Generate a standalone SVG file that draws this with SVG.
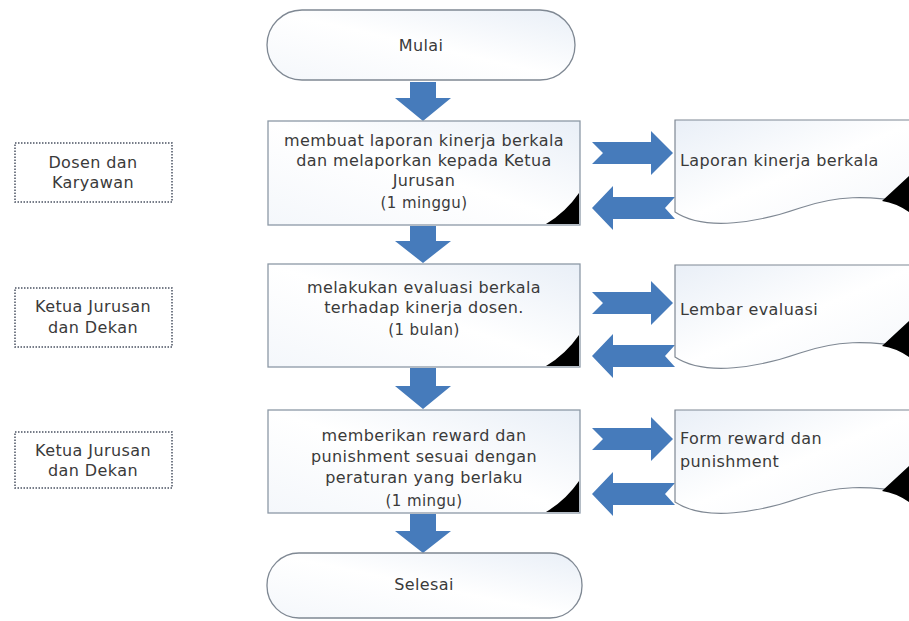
<svg xmlns="http://www.w3.org/2000/svg" width="909" height="621" viewBox="0 0 909 621">
<style>
.t{font-family:"DejaVu Sans","Liberation Sans",sans-serif;font-size:16px;fill:#3a3a3a;letter-spacing:0.4px}
.c{text-anchor:middle}
.d{font-size:15px}
.box{fill:url(#g);stroke:#8d99a6;stroke-width:1.3}
.term{fill:url(#g);stroke:#7f8893;stroke-width:1.3}
.lab{fill:#ffffff;stroke:#4a5262;stroke-width:1.5;stroke-dasharray:1.5 1.5}
.doc{fill:url(#g2);stroke:#7f8893;stroke-width:1.2}
.corner{fill:#000}
.arr{fill:#467bbb}
</style>
<defs>
<linearGradient id="g" x1="0" y1="1" x2="1" y2="0">
<stop offset="0" stop-color="#f4f7fb"/>
<stop offset="0.5" stop-color="#ffffff"/>
<stop offset="1" stop-color="#e9eff7"/>
</linearGradient>
<linearGradient id="g2" x1="0" y1="0" x2="1" y2="1">
<stop offset="0" stop-color="#e9eff7"/>
<stop offset="0.5" stop-color="#ffffff"/>
<stop offset="1" stop-color="#f3f6fa"/>
</linearGradient>
</defs>
<rect width="909" height="621" fill="#ffffff"/>

<g id="connectors">
<path class="arr" d="M410,82 H436 V98 H451 L423,121 L395,98 H410 Z"/>
<path class="arr" d="M410,226 H436 V241 H451 L423,263 L395,241 H410 Z"/>
<path class="arr" d="M410,368 H436 V386 H451 L423,409 L395,386 H410 Z"/>
<path class="arr" d="M410,514 H436 V531 H451 L423,553 L395,531 H410 Z"/>
<path class="arr" d="M592,142 H651 V131 L673,153 L651,175 V164 H592 L603,153 Z"/>
<path class="arr" d="M675,197 H613 V186 L592,208 L613,230 V219 H675 L665,208 Z"/>
<path class="arr" d="M592,292 H651 V281 L673,303 L651,325 V314 H592 L603,303 Z"/>
<path class="arr" d="M675,345 H613 V334 L592,356 L613,378 V367 H675 L665,356 Z"/>
<path class="arr" d="M592,428 H651 V417 L673,439 L651,461 V450 H592 L603,439 Z"/>
<path class="arr" d="M675,483 H613 V472 L592,494 L613,516 V505 H675 L665,494 Z"/>
</g>

<g id="mulai">
<rect class="term" x="267" y="10" width="308" height="70" rx="35"/>
<text class="t c" x="421" y="51">Mulai</text>
</g>

<g id="proses1">
<rect class="box" x="268" y="121" width="312" height="104"/>
<path class="corner" d="M546,224 Q566,212 579,193 V224 Z"/>
<text class="t c" x="424" y="146">membuat laporan kinerja berkala</text>
<text class="t c" x="424" y="166">dan melaporkan kepada Ketua</text>
<text class="t c" x="424" y="186">Jurusan</text>
<text class="t c d" x="424" y="208">(1 minggu)</text>
</g>

<g id="proses2">
<rect class="box" x="268" y="264" width="312" height="103"/>
<path class="corner" d="M546,366 Q566,354 579,335 V366 Z"/>
<text class="t c" x="424" y="293">melakukan evaluasi berkala</text>
<text class="t c" x="424" y="313">terhadap kinerja dosen.</text>
<text class="t c d" x="424" y="335">(1 bulan)</text>
</g>

<g id="proses3">
<rect class="box" x="268" y="410" width="312" height="103"/>
<path class="corner" d="M546,512 Q566,500 579,481 V512 Z"/>
<text class="t c" x="424" y="441">memberikan reward dan</text>
<text class="t c" x="424" y="462">punishment sesuai dengan</text>
<text class="t c" x="424" y="483">peraturan yang berlaku</text>
<text class="t c d" x="424" y="506">(1 mingu)</text>
</g>

<g id="selesai">
<rect class="term" x="267" y="553" width="315" height="65" rx="32"/>
<text class="t c" x="424" y="590">Selesai</text>
</g>

<g id="label1">
<rect class="lab" x="15" y="143" width="157" height="59"/>
<text class="t c" x="93" y="168">Dosen dan</text>
<text class="t c" x="93" y="188">Karyawan</text>
</g>
<g id="label2">
<rect class="lab" x="15" y="288" width="157" height="59"/>
<text class="t c" x="93" y="312">Ketua Jurusan</text>
<text class="t c" x="93" y="333">dan Dekan</text>
</g>
<g id="label3">
<rect class="lab" x="15" y="432" width="157" height="56"/>
<text class="t c" x="93" y="456">Ketua Jurusan</text>
<text class="t c" x="93" y="476">dan Dekan</text>
</g>

<g id="dok1">
<path class="doc" d="M920,120 H675 V212 C705,232 760,222 800,208 C835,196 865,194 920,204"/>
<path class="corner" d="M882,201 Q896,188 909,176 V212 Q896,203 882,201 Z"/>
<text class="t" x="680" y="166">Laporan kinerja berkala</text>
</g>
<g id="dok2">
<path class="doc" d="M920,265 H675 V357 C705,377 760,367 800,353 C835,341 865,339 920,349"/>
<path class="corner" d="M882,346 Q896,333 909,321 V357 Q896,348 882,346 Z"/>
<text class="t" x="680" y="315">Lembar evaluasi</text>
</g>
<g id="dok3">
<path class="doc" d="M920,410 H675 V502 C705,522 760,512 800,498 C835,486 865,484 920,494"/>
<path class="corner" d="M882,491 Q896,478 909,466 V502 Q896,493 882,491 Z"/>
<text class="t" x="680" y="444">Form reward dan</text>
<text class="t" x="680" y="467">punishment</text>
</g>
</svg>
